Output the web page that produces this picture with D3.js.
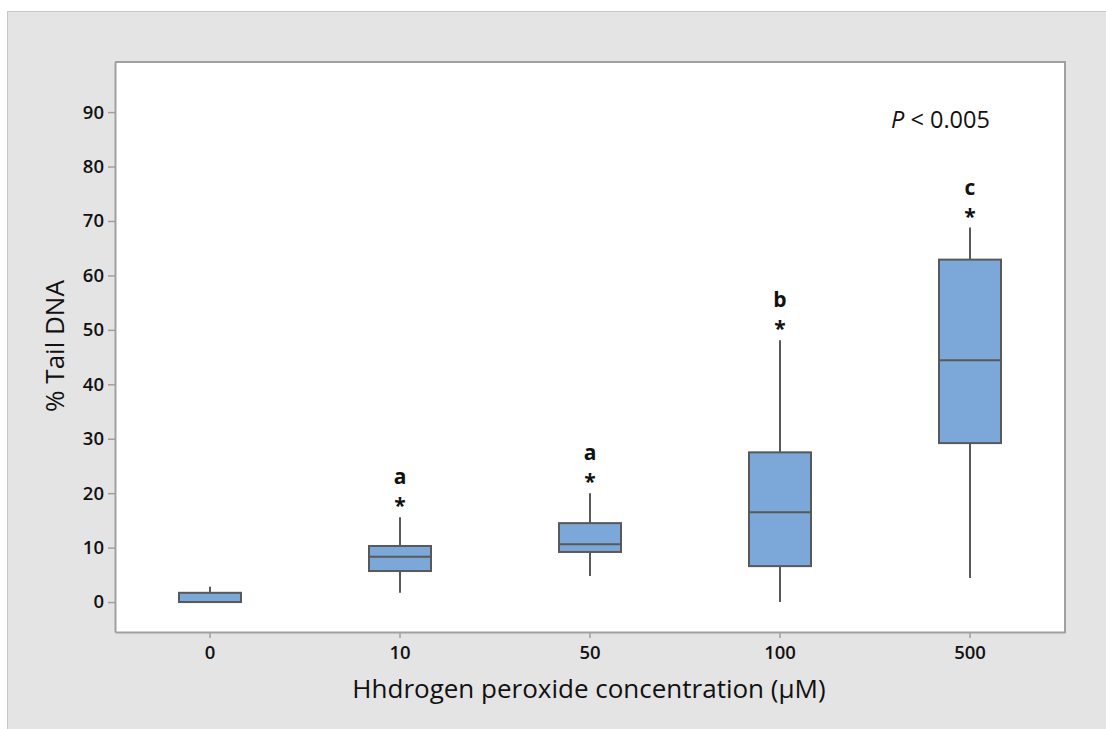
<!DOCTYPE html>
<html>
<head>
<meta charset="utf-8">
<script src="https://cdn.jsdelivr.net/npm/d3@7"></script>
<style>
  html, body { margin: 0; padding: 0; background: #fff; }
  svg { display: block; }
</style>
</head>
<body>
<svg id="chart" width="1106" height="729"></svg>
<script>
// H2O2 concentrations (µM) and % tail DNA box-plot summaries
const categories = ["0", "10", "50", "100", "500"];
const whiskerLow  = [0.0, 1.7, 4.8, 0.0, 4.4];
const q1          = [0.0, 5.7, 9.2, 6.6, 29.2];
const medians     = [0.0, 8.3, 10.6, 16.5, 44.4];
const q3          = [1.7, 10.3, 14.5, 27.5, 62.9];
const whiskerHigh = [2.8, 15.6, 20.0, 48.1, 68.8];
const groupLetters = ["", "a", "a", "b", "c"];
const yTicks = [0, 10, 20, 30, 40, 50, 60, 70, 80, 90];

const rows = categories.map((c, i) => ({
  cat: c, lo: whiskerLow[i], q1: q1[i], med: medians[i], q3: q3[i], hi: whiskerHigh[i], letter: groupLetters[i]
}));

const svg = d3.select("#chart");
const W = 1106, H = 729;
const plot = { left: 115, top: 62, right: 1065, bottom: 632 };

// outer panel
svg.append("rect").attr("x", 7.5).attr("y", 11.5).attr("width", W).attr("height", H)
  .attr("fill", "#e4e4e4").attr("stroke", "#c9c9c9").attr("stroke-width", 1);

// plotting area
svg.append("rect").attr("x", plot.left).attr("y", plot.top)
  .attr("width", plot.right - plot.left).attr("height", plot.bottom - plot.top)
  .attr("fill", "#ffffff");

const x = d3.scaleBand().domain(categories).range([plot.left, plot.right]).padding(0);
const y = d3.scaleLinear().domain([-5.5, 99.2]).range([plot.bottom, plot.top]);

const axisColor = "#a0a0a0";
const font = "'Open Sans', 'DejaVu Sans', sans-serif";

function styleTicks(sel) {
  sel.selectAll(".tick text")
    .style("fill", "#111").style("font-family", font)
    .style("font-size", "18.5px").style("font-weight", "600");
}

// y axis
const yAxis = svg.append("g").attr("transform", `translate(${plot.left},0)`)
  .call(d3.axisLeft(y).tickValues(yTicks).tickSize(7).tickPadding(4).tickSizeOuter(0));
yAxis.select(".domain").attr("stroke", axisColor).attr("stroke-width", 2);
yAxis.selectAll(".tick line").attr("stroke", axisColor).attr("stroke-width", 1.5);
styleTicks(yAxis);

// x axis
const xAxis = svg.append("g").attr("transform", `translate(0,${plot.bottom})`)
  .call(d3.axisBottom(x).tickSize(6).tickPadding(8).tickSizeOuter(0));
xAxis.select(".domain").attr("stroke", axisColor).attr("stroke-width", 2);
xAxis.selectAll(".tick line").attr("stroke", axisColor).attr("stroke-width", 1.5);
styleTicks(xAxis);

// right and top frame of the plotting area
svg.append("line").attr("x1", plot.right).attr("x2", plot.right).attr("y1", plot.top - 1).attr("y2", plot.bottom + 1)
  .attr("stroke", axisColor).attr("stroke-width", 2);
svg.append("line").attr("x1", plot.left).attr("x2", plot.right).attr("y1", plot.top).attr("y2", plot.top)
  .attr("stroke", axisColor).attr("stroke-width", 2);

// boxes
const boxW = 62;
const stroke = "#595959";
const g = svg.append("g").selectAll("g").data(rows).join("g")
  .attr("transform", d => `translate(${x(d.cat) + x.bandwidth() / 2},0)`);

g.append("line").attr("x1", 0).attr("x2", 0)
  .attr("y1", d => y(d.q3)).attr("y2", d => y(d.hi))
  .attr("stroke", stroke).attr("stroke-width", 2);
g.append("line").attr("x1", 0).attr("x2", 0)
  .attr("y1", d => y(d.q1)).attr("y2", d => y(d.lo))
  .attr("stroke", stroke).attr("stroke-width", 2);
g.append("rect").attr("x", -boxW / 2).attr("width", boxW)
  .attr("y", d => y(d.q3)).attr("height", d => Math.max(y(d.q1) - y(d.q3), 0))
  .attr("fill", "#7ba7d9").attr("stroke", stroke).attr("stroke-width", 2);
g.append("line").attr("x1", -boxW / 2).attr("x2", boxW / 2)
  .attr("y1", d => y(d.med)).attr("y2", d => y(d.med))
  .attr("stroke", stroke).attr("stroke-width", 2);

// significance markers
const marked = g.filter(d => d.letter !== "");
marked.append("text").text("*")
  .attr("y", d => y(d.hi) - 4)
  .attr("text-anchor", "middle").attr("font-family", font)
  .attr("font-size", 21).attr("font-weight", 700).attr("fill", "#111");
marked.append("text").text(d => d.letter)
  .attr("y", d => y(d.hi) - 33)
  .attr("text-anchor", "middle").attr("font-family", font)
  .attr("font-size", 21).attr("font-weight", 700).attr("fill", "#111");

// P value note
const pNote = svg.append("text").attr("x", 891).attr("y", 128)
  .attr("font-family", font).attr("font-size", 23.5).attr("fill", "#111");
pNote.append("tspan").attr("font-style", "italic").text("P");
pNote.append("tspan").text(" < 0.005");

// axis titles
svg.append("text").attr("x", 589).attr("y", 698)
  .attr("text-anchor", "middle").attr("font-family", font)
  .attr("font-size", 26).attr("fill", "#111")
  .text("Hhdrogen peroxide concentration (μM)");
svg.append("text").attr("transform", `translate(64,346) rotate(-90)`)
  .attr("text-anchor", "middle").attr("font-family", font)
  .attr("font-size", 26).attr("fill", "#111")
  .text("% Tail DNA");
</script>
</body>
</html>
